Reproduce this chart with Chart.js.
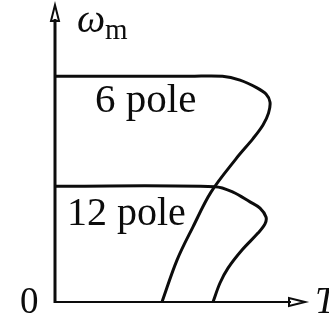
<!DOCTYPE html>
<html>
<head>
<meta charset="utf-8">
<script src="https://cdn.jsdelivr.net/npm/chart.js@4"></script>
<style>
  html, body { margin: 0; padding: 0; background: #fff; }
  #wrap { width: 329px; height: 320px; position: relative; }
</style>
</head>
<body>
<div id="wrap"><canvas id="tsChart"></canvas></div>
<script>
// torque (x) and speed (y), arbitrary units
const pole6T = [0, 54, 67, 74, 80.8, 84.4, 86, 85.4, 83.2, 79.2, 72.4, 62.4, 55.2, 48.8, 42.8];
const pole6W = [76, 76, 76, 74.7, 72.1, 70, 67.3, 63.6, 59.6, 55.0, 48.2, 37.0, 25.3, 14.1, 0];
const pole12T = [0, 64, 71.2, 78, 82, 84.4, 84, 81.2, 74.8, 69.2, 66, 63.2];
const pole12W = [39, 38.8, 37, 33.7, 31.6, 28.6, 26.3, 23.2, 17.5, 11.4, 6.4, 0];
const seriesNames = ['6 pole', '12 pole'];

const toPoints = (xs, ys) => xs.map((x, i) => ({ x: x, y: ys[i] }));

const ink = '#0c0c0c';

// axes with arrow heads and the hand-placed labels
const sketchPlugin = {
    id: 'sketch',
    afterDatasetsDraw(chart) {
        const ctx = chart.ctx;
        const xs = chart.scales.x, ys = chart.scales.y;
        const ox = xs.getPixelForValue(0), oy = ys.getPixelForValue(0);
        const top = chart.chartArea.top, right = chart.chartArea.right;

        ctx.save();
        ctx.strokeStyle = ink;
        ctx.fillStyle = ink;
        ctx.lineCap = 'butt';

        // y axis
        ctx.lineWidth = 3;
        ctx.beginPath();
        ctx.moveTo(ox, oy + 1);
        ctx.lineTo(ox, top + 14);
        ctx.stroke();
        // x axis
        ctx.lineWidth = 2;
        ctx.beginPath();
        ctx.moveTo(ox - 1, oy);
        ctx.lineTo(right - 14, oy);
        ctx.stroke();

        // arrow heads
        ctx.lineWidth = 2;
        ctx.beginPath();
        ctx.moveTo(ox, top);
        ctx.lineTo(ox - 4, top + 16);
        ctx.lineTo(ox + 4, top + 16);
        ctx.closePath();
        ctx.stroke();
        ctx.beginPath();
        ctx.moveTo(right, oy);
        ctx.lineTo(right - 16, oy - 4);
        ctx.lineTo(right - 16, oy + 4);
        ctx.closePath();
        ctx.stroke();

        ctx.textBaseline = 'alphabetic';
        ctx.textAlign = 'left';
        // axis labels
        ctx.font = 'italic 40px "Liberation Serif"';
        ctx.fillText('\u03c9', ox + 22, top + 27);
        ctx.font = '29px "Liberation Serif"';
        ctx.fillText('m', ox + 50, top + 34);
        ctx.font = '37px "Liberation Serif"';
        ctx.fillText('0', ox - 35, oy + 11);
        ctx.font = 'italic 37px "Liberation Serif"';
        ctx.fillText('T', right + 10, oy + 11);

        // curve labels
        ctx.font = '41px "Liberation Serif"';
        ctx.fillText(seriesNames[0], ox + 40, ys.getPixelForValue(pole6W[0]) + 36);
        ctx.font = '40px "Liberation Serif"';
        ctx.fillText(seriesNames[1], ox + 12, ys.getPixelForValue(pole12W[0]) + 39);
        ctx.restore();
    }
};

function initChart() {
    const ctx = document.getElementById('tsChart').getContext('2d');
    const lineStyle = {
        showLine: true,
        borderColor: ink,
        borderWidth: 3,
        pointRadius: 0,
        tension: 0.35,
        fill: false
    };
    new Chart(ctx, {
        type: 'scatter',
        data: {
            datasets: [
                Object.assign({ label: seriesNames[0], data: toPoints(pole6T, pole6W) }, lineStyle),
                Object.assign({ label: seriesNames[1], data: toPoints(pole12T, pole12W) }, lineStyle)
            ]
        },
        options: {
            responsive: true,
            maintainAspectRatio: false,
            animation: false,
            layout: { padding: { left: 55, right: 24, top: 5, bottom: 18 } },
            scales: {
                x: { type: 'linear', min: 0, max: 100, display: false },
                y: { type: 'linear', min: 0, max: 100, display: false }
            },
            plugins: {
                legend: { display: false },
                tooltip: { enabled: false }
            }
        },
        plugins: [sketchPlugin]
    });
}

document.addEventListener('DOMContentLoaded', initChart);
</script>
</body>
</html>
